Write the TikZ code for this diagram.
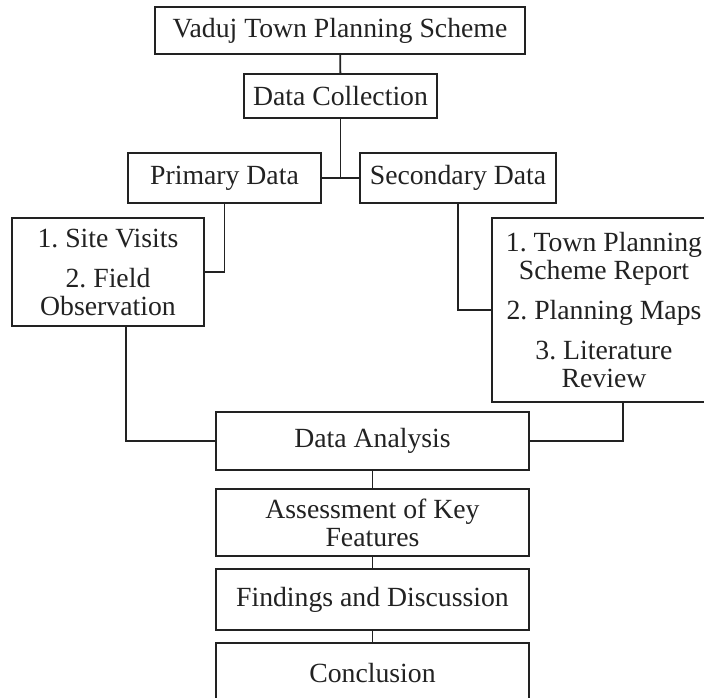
\documentclass[tikz,border=0pt]{standalone}
\usepackage{fontspec}
\setmainfont{Liberation Serif}
\usetikzlibrary{positioning,calc}
\definecolor{ink}{HTML}{222222}
\tikzset{
  box/.style={draw=ink, line width=1.4pt, inner sep=0pt, align=center,
    text=ink, font=\fontsize{20.8}{21}\selectfont\frenchspacing},
  link/.style={draw=ink, line width=1.4pt}
}
\begin{document}
\begin{tikzpicture}[x=0.75pt,y=-0.75pt]
\clip (0,0) rectangle (704,698);
\fill[white] (0,0) rectangle (704,698);
\node[box, minimum width=277.5pt, minimum height=35.25pt] (scheme) at (340,30.5) {Vaduj Town Planning Scheme};
\node[box, minimum width=144.75pt, minimum height=33pt] (collect) at (340.5,96) {Data Collection};
\node[box, minimum width=144.75pt, minimum height=37.5pt] (primary) at (224.5,178) {Primary Data};
\node[box, minimum width=147pt, minimum height=37.5pt] (secondary) at (458,178) {Secondary Data};
\node[box, minimum width=144pt, minimum height=81pt] (sites) at (108,272) {1. Site Visits\\[9pt]2. Field\\Observation};
\node[box, minimum width=168pt, minimum height=138pt] (sources) at (604,310) {1. Town Planning\\Scheme Report\\[9pt]2. Planning Maps\\[9pt]3. Literature\\Review};
\node[box, minimum width=234.75pt, minimum height=43.5pt] (analysis) at (372.5,441) {Data Analysis};
\node[box, minimum width=234.75pt, minimum height=50.25pt] (assess) at (372.5,522.5) {Assessment of Key\\Features};
\node[box, minimum width=234.75pt, minimum height=45.75pt] (findings) at (372.5,599.5) {Findings and Discussion};
\node[box, minimum width=234.75pt, minimum height=45pt] (conclusion) at (372.5,673) {Conclusion};
\draw[link] (scheme) -- (collect);
\draw[link] (collect.south) -- (collect.south |- primary.east);
\draw[link] (primary.east) -- (secondary.west);
\draw[link] (primary.south) |- (sites.east);
\draw[link] (secondary.south) |- (sources.west);
\draw[link] ([xshift=13.5pt]sites.south) |- (analysis.west);
\draw[link] ([xshift=14.25pt]sources.south) |- (analysis.east);
\draw[link] (analysis) -- (assess);
\draw[link] (assess) -- (findings);
\draw[link] (findings) -- (conclusion);
\end{tikzpicture}
\end{document}
